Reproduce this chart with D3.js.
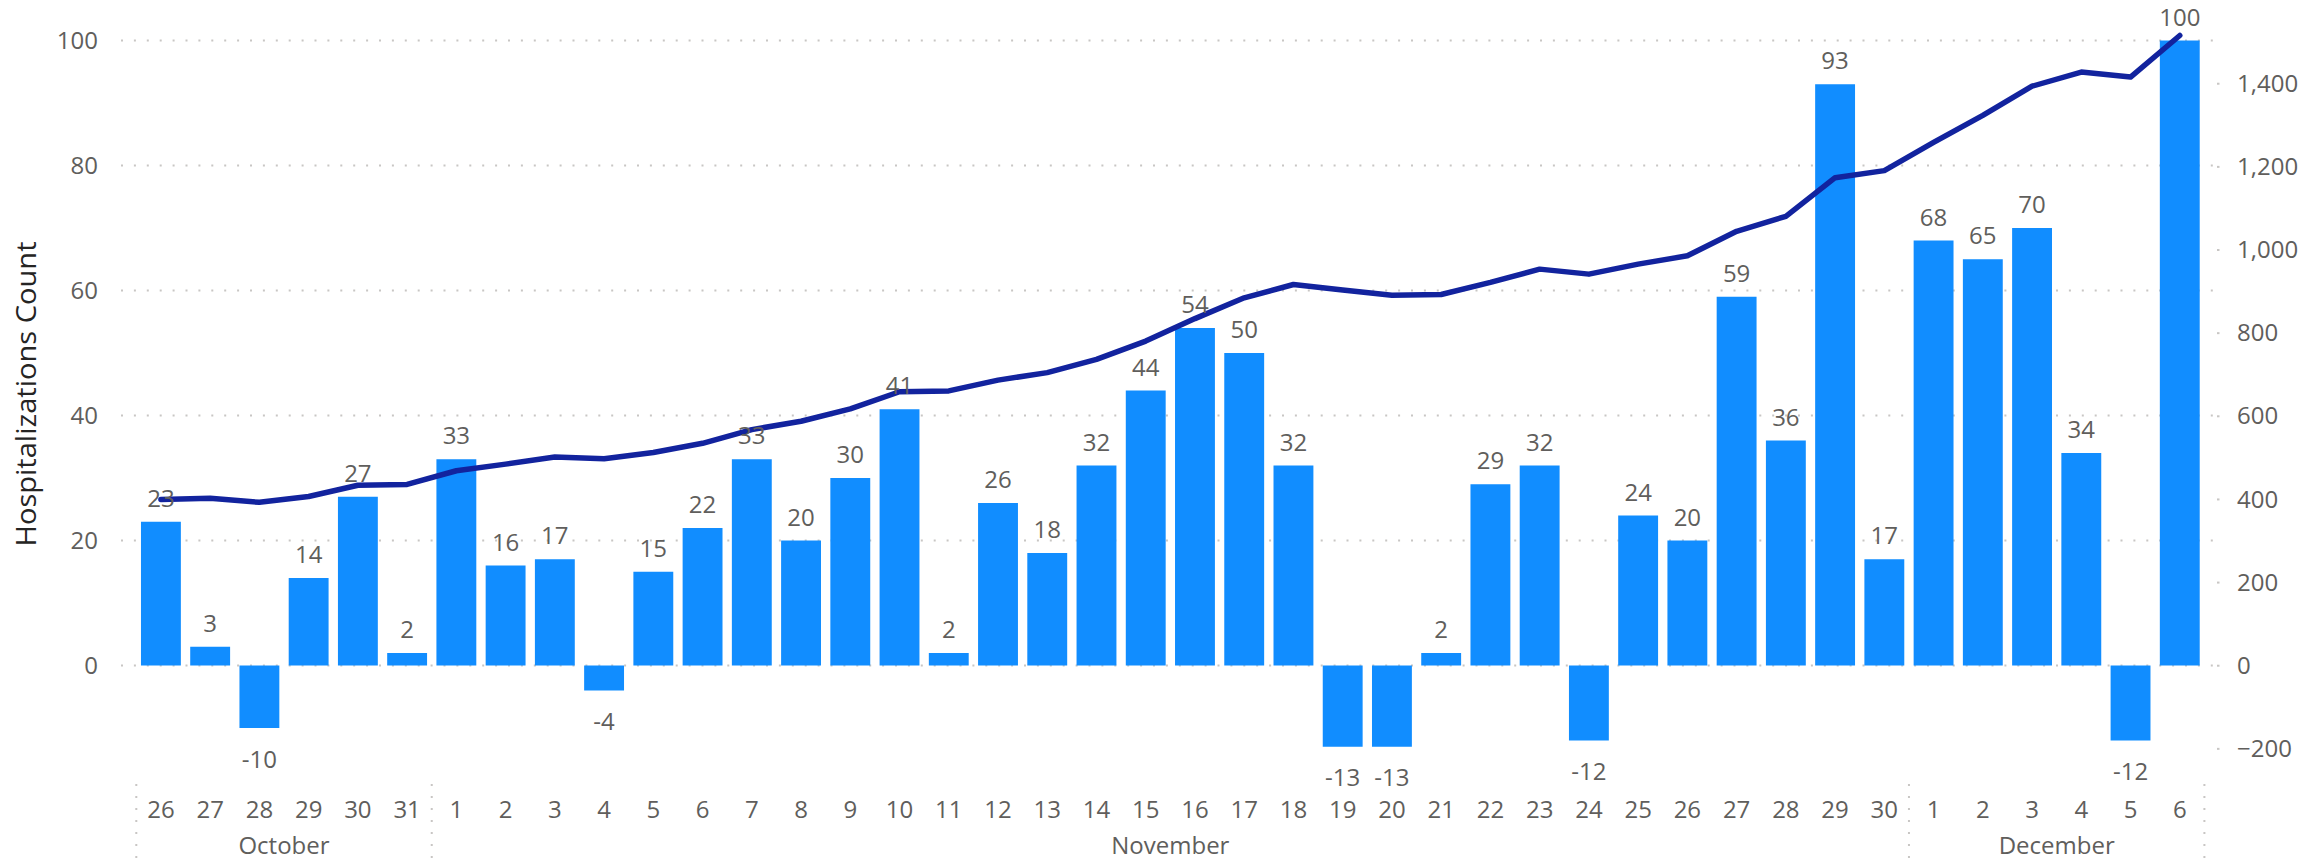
<!DOCTYPE html>
<html>
<head>
<meta charset="utf-8">
<script src="https://cdn.jsdelivr.net/npm/d3@7"></script>
<style>
  html, body { margin: 0; padding: 0; background: #ffffff; }
  svg { display: block; font-family: "Open Sans", "Noto Sans", "DejaVu Sans", sans-serif; }
</style>
</head>
<body>
<svg id="chart" width="2304" height="862"></svg>
<script>
// ---------- data ----------
const months = ["October", "November", "December"];
const dayLabels = [
  "26","27","28","29","30","31",
  "1","2","3","4","5","6","7","8","9","10","11","12","13","14","15",
  "16","17","18","19","20","21","22","23","24","25","26","27","28","29","30",
  "1","2","3","4","5","6"
];
const dayMonth = [
  0,0,0,0,0,0,
  1,1,1,1,1,1,1,1,1,1,1,1,1,1,1,1,1,1,1,1,1,1,1,1,1,1,1,1,1,1,
  2,2,2,2,2,2
];
const hospitalizations = [
  23, 3, -10, 14, 27, 2,
  33, 16, 17, -4, 15, 22, 33, 20, 30, 41, 2, 26, 18, 32, 44,
  54, 50, 32, -13, -13, 2, 29, 32, -12, 24, 20, 59, 36, 93, 17,
  68, 65, 70, 34, -12, 100
];
const cumulative = [
  400, 403, 393, 407, 434, 436,
  469, 485, 502, 498, 513, 535, 568, 588, 618, 659, 661, 687, 705, 737, 781,
  835, 885, 917, 904, 891, 893, 922, 954, 942, 966, 986, 1045, 1081, 1174, 1191,
  1259, 1324, 1394, 1428, 1416, 1516
];
const leftTicks = [0, 20, 40, 60, 80, 100];
const rightTicks = [-200, 0, 200, 400, 600, 800, 1000, 1200, 1400];
const yTitle = "Hospitalizations Count";

// ---------- layout ----------
const svg = d3.select("#chart");
const idx = d3.range(hospitalizations.length);
const plotTop = 40.5, plotBottom = 759.25;
const gridLeft = 121, gridRight = 2213;
const fontSize = 24;

const x = d3.scaleBand()
  .domain(idx)
  .range([136.3, 2204.4])
  .paddingInner(0.19)
  .paddingOuter(0.095);
const yL = d3.scaleLinear().domain([-15, 100]).range([plotBottom, plotTop]);
const yR = d3.scaleLinear().domain([-225, 1504]).range([plotBottom, plotTop]);

const textColor = "#605E5C";
const gridColor = "#C8C6C4";

// ---------- gridlines ----------
svg.append("g").selectAll("line")
  .data(leftTicks)
  .join("line")
  .attr("x1", gridLeft).attr("x2", gridRight)
  .attr("y1", d => yL(d)).attr("y2", d => yL(d))
  .attr("stroke", gridColor)
  .attr("stroke-width", 2)
  .attr("stroke-dasharray", "2,10.9");

// ---------- left axis ----------
const leftAxis = d3.axisLeft(yL).tickValues(leftTicks).tickSize(0).tickPadding(0);
const gL = svg.append("g").attr("transform", "translate(98,0)").call(leftAxis);
gL.select(".domain").remove();
gL.selectAll("text")
  .attr("fill", textColor)
  .attr("font-size", fontSize)
  .attr("font-family", "'Open Sans', 'Noto Sans', sans-serif");

// ---------- right axis ----------
const rightAxis = d3.axisRight(yR).tickValues(rightTicks).tickSize(0).tickPadding(0)
  .tickFormat(d3.format(","));
const gR = svg.append("g").attr("transform", "translate(2237,0)").call(rightAxis);
gR.select(".domain").remove();
gR.selectAll("text")
  .attr("fill", textColor)
  .attr("font-size", fontSize)
  .attr("font-family", "'Open Sans', 'Noto Sans', sans-serif");
svg.append("g").selectAll("line")
  .data(rightTicks)
  .join("line")
  .attr("x1", 2217).attr("x2", 2219.5)
  .attr("y1", d => yR(d)).attr("y2", d => yR(d))
  .attr("stroke", gridColor)
  .attr("stroke-width", 2);

// ---------- y title ----------
svg.append("text")
  .attr("transform", "translate(36,394) rotate(-90)")
  .attr("text-anchor", "middle")
  .attr("fill", "#252423")
  .attr("font-size", 28)
  .attr("textLength", 305)
  .attr("lengthAdjust", "spacingAndGlyphs")
  .text(yTitle);

// ---------- bars ----------
svg.append("g").selectAll("rect")
  .data(idx)
  .join("rect")
  .attr("x", i => x(i))
  .attr("width", x.bandwidth())
  .attr("y", i => yL(Math.max(0, hospitalizations[i])))
  .attr("height", i => Math.abs(yL(hospitalizations[i]) - yL(0)))
  .attr("fill", "#118DFF");

// ---------- line ----------
const line = d3.line()
  .x(i => x(i) + x.bandwidth() / 2)
  .y(i => yR(cumulative[i]));
svg.append("path")
  .datum(idx)
  .attr("d", line)
  .attr("fill", "none")
  .attr("stroke", "#12239E")
  .attr("stroke-width", 5.5)
  .attr("stroke-linejoin", "round")
  .attr("stroke-linecap", "round");

// ---------- data labels ----------
svg.append("g").selectAll("text")
  .data(idx)
  .join("text")
  .attr("x", i => x(i) + x.bandwidth() / 2)
  .attr("y", i => hospitalizations[i] >= 0 ? yL(hospitalizations[i]) - 15 : yL(hospitalizations[i]) + 30)
  .attr("dominant-baseline", i => hospitalizations[i] >= 0 ? "auto" : "central")
  .attr("text-anchor", "middle")
  .attr("fill", textColor)
  .attr("font-size", fontSize)
  .text(i => hospitalizations[i]);

// ---------- x axis (days) ----------
svg.append("g").selectAll("text")
  .data(idx)
  .join("text")
  .attr("x", i => x(i) + x.bandwidth() / 2)
  .attr("y", 808)
  .attr("dominant-baseline", "central")
  .attr("text-anchor", "middle")
  .attr("fill", textColor)
  .attr("font-size", fontSize)
  .text(i => dayLabels[i]);

// ---------- month groups ----------
const groups = months.map((m, k) => {
  const members = idx.filter(i => dayMonth[i] === k);
  const first = members[0], last = members[members.length - 1];
  const start = x(first) - x.step() * x.paddingInner() / 2;
  const end = x(last) + x.bandwidth() + x.step() * x.paddingInner() / 2;
  return { name: m, start, end };
});
const seps = [groups[0].start].concat(groups.map(g => g.end));
svg.append("g").selectAll("line")
  .data(seps)
  .join("line")
  .attr("x1", d => d).attr("x2", d => d)
  .attr("y1", 784).attr("y2", 862)
  .attr("stroke", gridColor)
  .attr("stroke-width", 2)
  .attr("stroke-dasharray", "2,10");
svg.append("g").selectAll("text")
  .data(groups)
  .join("text")
  .attr("x", g => (g.start + g.end) / 2)
  .attr("y", 844)
  .attr("dominant-baseline", "central")
  .attr("text-anchor", "middle")
  .attr("fill", textColor)
  .attr("font-size", fontSize)
  .text(g => g.name);
</script>
</body>
</html>
